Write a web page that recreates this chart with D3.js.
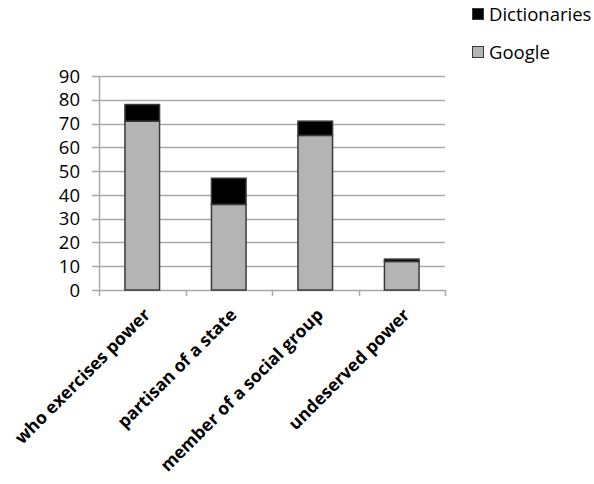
<!DOCTYPE html>
<html>
<head>
<meta charset="utf-8">
<script src="https://cdn.jsdelivr.net/npm/d3@7"></script>
<style>
  html, body { margin: 0; padding: 0; background: #fff; }
  svg { display: block; font-family: "Open Sans", "Noto Sans", sans-serif; }
</style>
</head>
<body>
<svg id="chart" width="594" height="484"></svg>
<script>
// Categories and stacked series (Google at the bottom, Dictionaries on top)
const categories = ["who exercises power", "partisan of a state", "member of a social group", "undeserved power"];
const googleValues = [71, 36, 65, 12];
const dictionaryValues = [7, 11, 6, 1];
const seriesNames = ["Google", "Dictionaries"];
const yTicks = [0, 10, 20, 30, 40, 50, 60, 70, 80, 90];

const rows = categories.map((c, i) => ({ category: c, Google: googleValues[i], Dictionaries: dictionaryValues[i] }));

const svg = d3.select("#chart");
const plot = { left: 99, right: 445, top: 76, bottom: 290 };

const x = d3.scaleBand()
  .domain(categories)
  .range([plot.left, plot.right])
  .paddingInner(0.6)
  .paddingOuter(0.3);

const y = d3.scaleLinear()
  .domain([0, 90])
  .range([plot.bottom, plot.top]);

const colors = { Google: "#b4b4b4", Dictionaries: "#000000" };
const gridColor = "#a9a9a9";

// Horizontal gridlines doubling as y ticks
svg.append("g")
  .selectAll("line")
  .data(yTicks)
  .join("line")
  .attr("x1", plot.left - 7)
  .attr("x2", plot.right)
  .attr("y1", d => Math.round(y(d)) + 0.5)
  .attr("y2", d => Math.round(y(d)) + 0.5)
  .attr("stroke", gridColor)
  .attr("stroke-width", 1.5);

// Y tick labels
svg.append("g")
  .selectAll("text")
  .data(yTicks)
  .join("text")
  .attr("x", 80)
  .attr("y", d => y(d))
  .attr("dy", "0.36em")
  .attr("text-anchor", "end")
  .attr("font-size", 18.5)
  .attr("fill", "#000")
  .text(d => d);

// Vertical axis line
svg.append("line")
  .attr("x1", plot.left + 0.5).attr("x2", plot.left + 0.5)
  .attr("y1", plot.top).attr("y2", plot.bottom + 6)
  .attr("stroke", gridColor).attr("stroke-width", 1.5);

// Category boundary ticks under the baseline
const step = x.step();
const boundaries = categories.map(c => x(c) - step * x.paddingInner() / 2)
  .concat([x(categories[categories.length - 1]) + x.bandwidth() + step * x.paddingInner() / 2]);
svg.append("g")
  .selectAll("line")
  .data(boundaries.slice(1))
  .join("line")
  .attr("x1", d => Math.round(d) + 0.5)
  .attr("x2", d => Math.round(d) + 0.5)
  .attr("y1", plot.bottom)
  .attr("y2", plot.bottom + 6)
  .attr("stroke", gridColor)
  .attr("stroke-width", 1.5);

// Stacked bars
const stack = d3.stack().keys(seriesNames);
const layers = stack(rows);
svg.append("g")
  .selectAll("g")
  .data(layers)
  .join("g")
  .attr("fill", d => colors[d.key])
  .selectAll("rect")
  .data(d => d)
  .join("rect")
  .attr("x", d => x(d.data.category))
  .attr("y", d => y(d[1]))
  .attr("width", x.bandwidth())
  .attr("height", d => y(d[0]) - y(d[1]))
  .attr("stroke", "#3a3a3a")
  .attr("stroke-width", 1.5);

// Rotated category labels
svg.append("g")
  .selectAll("text")
  .data(categories)
  .join("text")
  .attr("transform", d => `translate(${x(d) + x.bandwidth() / 2 + 9},${plot.bottom + 26}) rotate(-45)`)
  .attr("text-anchor", "end")
  .attr("font-size", 17.5)
  .attr("font-weight", "bold")
  .attr("fill", "#000")
  .text(d => d);

// Legend
const legendItems = ["Dictionaries", "Google"];
const legend = svg.append("g")
  .selectAll("g")
  .data(legendItems)
  .join("g")
  .attr("transform", (d, i) => `translate(472,${8 + i * 38})`);
legend.append("rect")
  .attr("width", 11).attr("height", 11)
  .attr("x", 0.5).attr("y", 0.5)
  .attr("fill", d => colors[d])
  .attr("stroke", "#3a3a3a")
  .attr("stroke-width", 1);
legend.append("text")
  .attr("x", 17)
  .attr("y", 12.5)
  .attr("font-size", 18.5)
  .attr("fill", "#000")
  .text(d => d);
</script>
</body>
</html>
